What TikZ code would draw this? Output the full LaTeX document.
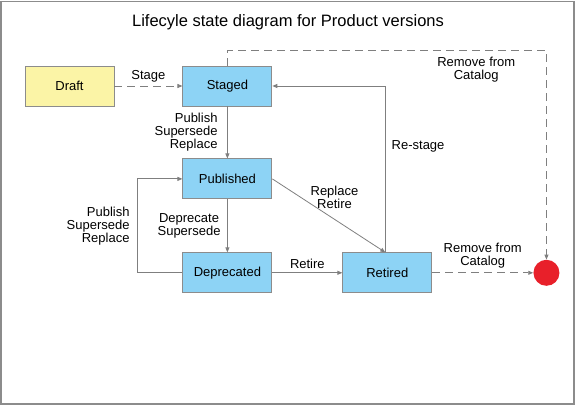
\documentclass[tikz,border=0pt]{standalone}
\usepackage{fontspec}
\setmainfont{Liberation Sans}
\usetikzlibrary{positioning,arrows.meta}
\definecolor{stateblue}{HTML}{8DD3F5}
\definecolor{draftyellow}{HTML}{FBF4A6}
\definecolor{endred}{HTML}{E8202A}
\definecolor{linegray}{HTML}{7F7F7F}

\begin{document}
\begin{tikzpicture}[
  font=\fontsize{13}{13}\selectfont, >={Triangle[length=5pt,width=4pt]},
  state/.style={draw=linegray!90, line width=0.9pt, fill=stateblue, minimum width=89pt, minimum height=40pt, inner sep=2pt},
  conn/.style={draw=linegray, line width=0.8pt, ->},
  lbl/.style={align=center, inner sep=1.5pt},
]
\useasboundingbox (0,0) rectangle (576pt,-409pt);
\draw[linegray!90, line width=1.4pt] (1pt,-1.5pt) rectangle (574pt,-404pt);

\node[font=\fontsize{16.5}{18}\selectfont] (title) at (288pt,-22pt) {Lifecyle state diagram for Product versions};

% states
\node[state, fill=draftyellow] (draft) at (69.5pt,-86pt) {Draft};
\node[state, right=68pt of draft] (staged) {Staged};
\node[state, below=52pt of staged] (published) {Published};
\node[state, below=53pt of published] (deprecated) {Deprecated};
\node[state, right=70pt of deprecated] (retired) {Retired};
\node[circle, fill=endred, minimum size=26pt, inner sep=0pt, right=101pt of retired] (removed) {};

% transitions
\draw[conn, dashed, dash pattern=on 8pt off 5pt] (draft) -- node[lbl, above=2pt] {Stage} (staged);
\draw[conn] (staged) -- node[lbl, left=8pt, align=right] {Publish\\Supersede\\Replace} (published);
\draw[conn] (published) -- node[lbl, left=5pt] {Deprecate\\Supersede} (deprecated);
\draw[conn] (deprecated.west) -- ++(-45pt,0) |- node[lbl, pos=0.25, left=6pt, align=right] {Publish\\Supersede\\Replace} (published.west);
\draw[conn] (deprecated) -- node[lbl, above=2pt] {Retire} (retired);
\draw[conn] (published.east) -- node[lbl, pos=0.55, above=9pt] {Replace\\Retire} ([xshift=-2pt]retired.north);
\draw[conn] ([xshift=-1.5pt]retired.north) |- node[lbl, pos=0.32, right=4pt] {Re-stage} (staged.east);

% removal
\draw[conn, dashed, dash pattern=on 8pt off 5pt] (staged.north) -- ++(0,15pt) -| node[lbl, pos=0.39, below=5pt] {Remove from\\Catalog} (removed.north);
\draw[conn, dashed, dash pattern=on 8pt off 5pt] (retired) -- node[lbl, above=3pt] {Remove from\\Catalog} (removed);
\end{tikzpicture}
\end{document}
